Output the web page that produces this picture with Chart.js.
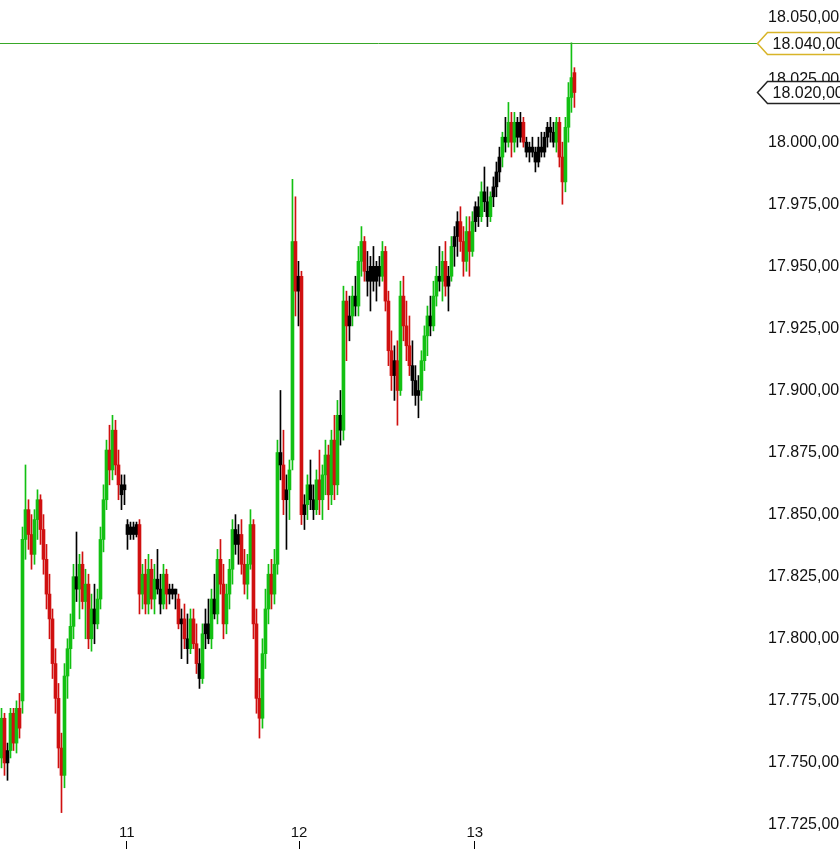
<!DOCTYPE html>
<html>
<head>
<meta charset="utf-8">
<script src="https://cdn.jsdelivr.net/npm/chart.js@4.4.1/dist/chart.umd.min.js"></script>
<style>
  html, body { margin: 0; padding: 0; background: #fff; }
  #wrap { width: 840px; height: 849px; position: relative; }
</style>
</head>
<body>
<div id="wrap"><canvas id="chart"></canvas></div>
<script>
// OHLC, one bar per entry
const opens = [17752,17768,17750,17755,17770,17758,17772,17775,17840,17852,17842,17834,17848,17856,17844,17832,17818,17808,17790,17776,
  17756,17745,17785,17796,17805,17825,17820,17830,17815,17822,17800,17812,17806,17816,17840,17856,17876,17868,17884,17870,
  17862,17862,17846,17842,17845,17842,17846,17818,17826,17814,17828,17816,17824,17820,17814,17826,17818,17820,17818,17816,
  17806,17808,17800,17796,17808,17798,17790,17784,17802,17806,17800,17816,17810,17832,17822,17806,17818,17828,17844,17838,
  17842,17830,17822,17830,17846,17806,17776,17768,17794,17812,17826,17818,17830,17875,17870,17856,17860,17872,17960,17940,
  17946,17850,17854,17862,17856,17852,17864,17856,17866,17874,17858,17880,17862,17890,17884,17936,17926,17930,17938,17934,
  17952,17960,17948,17944,17950,17944,17950,17946,17956,17936,17916,17906,17912,17900,17938,17926,17918,17910,17904,17898,
  17900,17912,17922,17930,17926,17938,17946,17944,17952,17942,17946,17958,17962,17968,17960,17952,17964,17956,17968,17974,
  17970,17980,17976,17970,17978,17982,17988,17994,18002,18000,18008,18000,18008,18002,18008,18000,17996,17998,17996,17992,
  17998,17996,18002,18006,18004,18000,18008,17994,17984,18006,18018,18028];
const highs = [17772,17770,17758,17772,17772,17775,17778,17845,17870,17856,17850,17852,17860,17858,17850,17838,17826,17812,17796,17782,
  17762,17790,17800,17810,17830,17843,17834,17835,17828,17826,17818,17822,17820,17845,17862,17880,17886,17890,17888,17876,
  17866,17866,17848,17847,17847,17847,17848,17830,17832,17834,17832,17830,17836,17826,17830,17828,17822,17822,17820,17818,
  17812,17814,17810,17812,17812,17806,17796,17806,17812,17816,17820,17826,17836,17840,17830,17822,17832,17848,17850,17846,
  17848,17836,17834,17852,17848,17812,17784,17800,17820,17830,17832,17836,17880,17900,17884,17866,17872,17985,17978,17952,
  17948,17858,17866,17872,17862,17868,17876,17870,17880,17878,17884,17890,17896,17900,17942,17940,17938,17942,17946,17958,
  17966,17962,17956,17954,17958,17952,17954,17960,17958,17940,17924,17918,17920,17944,17946,17936,17930,17920,17910,17906,
  17916,17926,17934,17938,17944,17950,17958,17956,17960,17950,17962,17966,17972,17974,17966,17970,17970,17972,17976,17978,
  17984,17990,17982,17980,17986,17992,17998,18004,18010,18016,18012,18012,18010,18012,18010,18002,18000,18002,17998,18002,
  18004,18004,18008,18010,18008,18010,18010,18000,18010,18024,18040,18030];
const lows = [17748,17745,17743,17752,17755,17754,17760,17770,17832,17836,17828,17830,17840,17838,17826,17812,17800,17784,17770,17748,
  17730,17740,17776,17788,17800,17815,17808,17812,17800,17796,17795,17798,17804,17812,17835,17852,17862,17864,17866,17856,
  17852,17854,17836,17840,17840,17841,17810,17812,17810,17810,17812,17810,17818,17810,17812,17812,17814,17816,17812,17804,
  17792,17796,17790,17794,17796,17786,17780,17782,17796,17798,17796,17808,17806,17818,17800,17802,17812,17822,17834,17830,
  17826,17818,17816,17828,17800,17770,17760,17764,17788,17806,17812,17814,17826,17864,17850,17836,17848,17868,17930,17926,
  17846,17844,17848,17852,17848,17850,17850,17848,17858,17852,17854,17856,17858,17878,17880,17912,17920,17926,17930,17930,
  17946,17944,17938,17932,17940,17936,17942,17944,17932,17910,17900,17896,17886,17898,17920,17912,17906,17898,17894,17889,
  17896,17908,17914,17922,17924,17934,17940,17936,17938,17932,17944,17950,17954,17956,17946,17948,17946,17954,17964,17966,
  17968,17972,17966,17968,17974,17978,17984,17990,17996,17998,17994,17996,17998,18000,17998,17994,17992,17994,17988,17990,
  17994,17994,17998,18000,17998,17996,17990,17975,17980,18000,18012,18014];
const closes = [17768,17750,17755,17770,17758,17772,17764,17840,17852,17842,17834,17848,17856,17844,17832,17818,17808,17790,17776,17756,
  17745,17785,17796,17805,17825,17820,17830,17815,17822,17800,17812,17806,17816,17840,17856,17876,17868,17884,17870,17862,
  17858,17860,17842,17845,17842,17846,17818,17826,17814,17828,17816,17824,17820,17814,17826,17818,17820,17818,17820,17806,
  17808,17800,17796,17808,17798,17790,17784,17802,17806,17800,17816,17810,17832,17822,17806,17818,17828,17844,17838,17842,
  17830,17822,17830,17846,17806,17776,17768,17794,17812,17826,17818,17830,17875,17870,17856,17860,17868,17960,17940,17946,
  17850,17854,17862,17856,17852,17864,17856,17866,17874,17858,17880,17862,17890,17884,17936,17926,17930,17938,17934,17952,
  17960,17948,17944,17950,17944,17950,17946,17956,17936,17916,17906,17912,17900,17938,17926,17918,17910,17904,17898,17900,
  17912,17922,17930,17926,17938,17946,17944,17952,17942,17946,17958,17962,17968,17960,17952,17964,17956,17968,17974,17970,
  17980,17976,17970,17978,17982,17988,17994,18002,18000,18008,18000,18008,18002,18008,18000,17996,17998,17996,17992,17998,
  17996,18002,18006,18004,18000,18008,17994,17984,18006,18018,18026,18020];

const yTicks = [17725,17750,17775,17800,17825,17850,17875,17900,17925,17950,17975,18000,18025,18050];
const dayPos = [41.8, 99.2, 157.8];
const dayLabels = ['11', '12', '13'];
const markLevel = 18040;
const lastPrice = 18020;

const GREEN = '#12c012', RED = '#d01010', BLACK = '#000000';
const FONT = '"Liberation Sans", Arial, sans-serif';

function candleColor(i) {
  const d = closes[i] - opens[i];
  if (Math.abs(d) <= 6) return BLACK;
  return d > 0 ? GREEN : RED;
}

function fmt(v) {
  const p = v.toFixed(2).split('.');
  return p[0].replace(/\B(?=(\d{3})+(?!\d))/g, '.') + ',' + p[1];
}

const bodies = opens.map((o, i) => ({x: i, y: [o, closes[i]]}));
const wicks = lows.map((l, i) => ({x: i, y: [l, highs[i]]}));
const colors = opens.map((o, i) => candleColor(i));

const overlay = {
  id: 'overlay',
  afterDraw(chart) {
    const ctx = chart.ctx;
    const xs = chart.scales.x, ys = chart.scales.y;
    const area = chart.chartArea;
    ctx.save();
    // horizontal mark line
    const ym = Math.round(ys.getPixelForValue(markLevel)) + 0.5;
    ctx.strokeStyle = '#38a828';
    ctx.lineWidth = 1;
    ctx.beginPath();
    ctx.moveTo(area.left, ym);
    ctx.lineTo(area.right + 2, ym);
    ctx.stroke();

    function tag(val, stroke) {
      const yc = Math.round(ys.getPixelForValue(val)) + 0.5;
      const x0 = area.right + 2.5;
      ctx.beginPath();
      ctx.moveTo(x0, yc);
      ctx.lineTo(x0 + 10, yc - 11);
      ctx.lineTo(850, yc - 11);
      ctx.lineTo(850, yc + 11);
      ctx.lineTo(x0 + 10, yc + 11);
      ctx.closePath();
      ctx.fillStyle = '#ffffff';
      ctx.fill();
      ctx.strokeStyle = stroke;
      ctx.lineWidth = 1.5;
      ctx.stroke();
      ctx.fillStyle = '#111';
      ctx.font = '16px ' + FONT;
      ctx.textAlign = 'left';
      ctx.textBaseline = 'middle';
      ctx.fillText(fmt(val), x0 + 15, yc + 1);
    }
    tag(markLevel, '#d8b428');
    tag(lastPrice, '#222222');

    // day labels
    ctx.fillStyle = '#111';
    ctx.font = '15px ' + FONT;
    ctx.textAlign = 'center';
    ctx.textBaseline = 'middle';
    dayPos.forEach((p, k) => {
      ctx.fillText(dayLabels[k], xs.getPixelForValue(p), 833);
    });
    ctx.restore();
  }
};

new Chart(document.getElementById('chart'), {
  type: 'bar',
  data: {
    datasets: [
      {
        data: bodies,
        backgroundColor: colors,
        barThickness: 3,
        grouped: false,
        borderWidth: 0
      },
      {
        data: wicks,
        backgroundColor: colors,
        barThickness: 1,
        grouped: false,
        borderWidth: 0
      }
    ]
  },
  options: {
    responsive: true,
    maintainAspectRatio: false,
    animation: false,
    events: [],
    layout: { padding: 0 },
    plugins: { legend: { display: false }, tooltip: { enabled: false } },
    scales: {
      x: {
        type: 'linear',
        min: -0.5,
        max: 251.2,
        offset: false,
        border: { display: false },
        grid: { offset: false, drawOnChartArea: false, drawTicks: true, tickLength: 8, color: '#000' },
        ticks: { display: false },
        afterBuildTicks: s => { s.ticks = dayPos.map(v => ({value: v})); },
        afterFit: s => { s.height = 8; s.paddingLeft = 0; s.paddingRight = 0; }
      },
      y: {
        position: 'right',
        min: 17718.56,
        max: 18057.25,
        border: { display: false },
        grid: { display: false, drawTicks: false },
        ticks: {
          padding: 13,
          color: '#111',
          font: { size: 16, family: FONT },
          callback: v => fmt(v)
        },
        afterBuildTicks: s => { s.ticks = yTicks.map(v => ({value: v})); },
        afterFit: s => { s.width = 85; s.paddingTop = 0; s.paddingBottom = 0; }
      }
    }
  },
  plugins: [overlay]
});
</script>
</body>
</html>
